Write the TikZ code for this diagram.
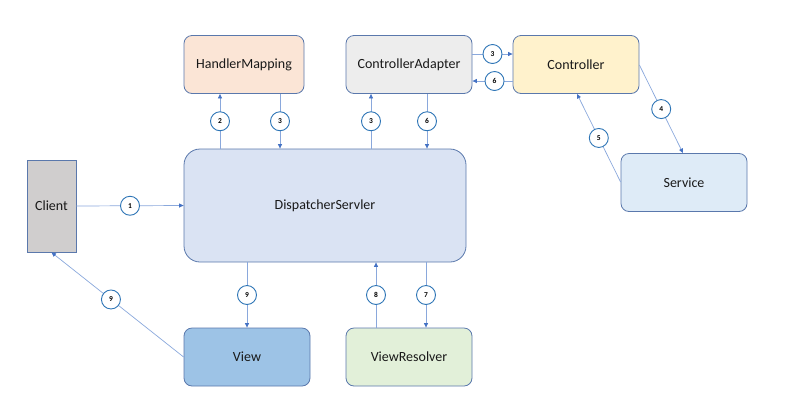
\documentclass[tikz,border=0pt]{standalone}
\usepackage{fontspec}
\setmainfont{Carlito}
\usetikzlibrary{arrows.meta}
\definecolor{bord}{HTML}{5A78AC}
\definecolor{conn}{HTML}{8AA8DC}
\definecolor{tipc}{HTML}{4472C4}
\definecolor{numc}{HTML}{2E75B6}
\definecolor{fhm}{HTML}{FBE5D6}
\definecolor{fca}{HTML}{EDEDED}
\definecolor{fct}{HTML}{FFF2CC}
\definecolor{fsv}{HTML}{DEEBF7}
\definecolor{fcl}{HTML}{D0CECE}
\definecolor{fds}{HTML}{DAE3F3}
\definecolor{fvw}{HTML}{9DC3E6}
\definecolor{fvr}{HTML}{E2F0D9}
\tikzset{
  box/.style={draw=bord, line width=0.8pt, rounded corners=8pt, minimum width=126pt, minimum height=58pt, inner sep=0pt, font=\fontsize{14}{16}\selectfont, text=black!90},
  arr/.style={draw=conn, line width=0.7pt, -{Triangle[length=4.5pt,width=4pt,color=tipc]}},
  num/.style={circle, draw=numc, line width=0.9pt, fill=white, minimum size=19pt, inner sep=0pt, font=\fontsize{7.5}{8}\selectfont\bfseries, text=black}
}
\begin{document}
\begin{tikzpicture}[x=1pt,y=-1pt]
\useasboundingbox (0,0) rectangle (795,416);
\node[box, fill=fhm, minimum width=120pt] (hm) at (244,64.5) {HandlerMapping};
\node[box, fill=fca] (ca) at (409,64.5) {ControllerAdapter};
\node[box, fill=fct] (ct) at (576,64.5) {Controller};
\node[box, fill=fsv] (sv) at (684,182.5) {Service};
\node[box, fill=fcl, rounded corners=0pt, minimum width=49pt, minimum height=92pt] (cl) at (51.5,206) {Client};
\node[box, fill=fds, rounded corners=16pt, minimum width=282pt, minimum height=113pt] (ds) at (325,205.5) {DispatcherServler};
\node[box, fill=fvw] (vw) at (247,357) {View};
\node[box, fill=fvr] (vr) at (409,357) {ViewResolver};

\draw[arr] (cl.east) -- node[num]{1} (ds.west);
\draw[arr] (ds.north -| 220,0) -- node[num]{2} (hm.south -| 220,0);
\draw[arr] (hm.south -| 280,0) -- node[num]{3} (ds.north -| 280,0);
\draw[arr] (ds.north -| 371,0) -- node[num]{3} (ca.south -| 371,0);
\draw[arr] (ca.south -| 427,0) -- node[num]{6} (ds.north -| 427,0);
\draw[arr] (ca.east |- 0,54) -- node[num]{3} (ct.west |- 0,54);
\draw[arr] (ct.west |- 0,81) -- node[num, pos=0.45]{6} (ca.east |- 0,81);
\draw[arr] (ct.east |- 0,65) -- node[num]{4} (sv.north -| 683,0);
\draw[arr] (sv.west |- 0,182) -- node[num]{5} (ct.south -| 577,0);
\draw[arr] (ds.south -| 247,0) -- node[num]{9} (vw.north);
\draw[arr] (vr.north -| 376,0) -- node[num]{8} (ds.south -| 376,0);
\draw[arr] (ds.south -| 426,0) -- node[num]{7} (vr.north -| 426,0);
\draw[arr] (vw.west) -- node[num, pos=0.55]{9} (cl.south);
\end{tikzpicture}
\end{document}
